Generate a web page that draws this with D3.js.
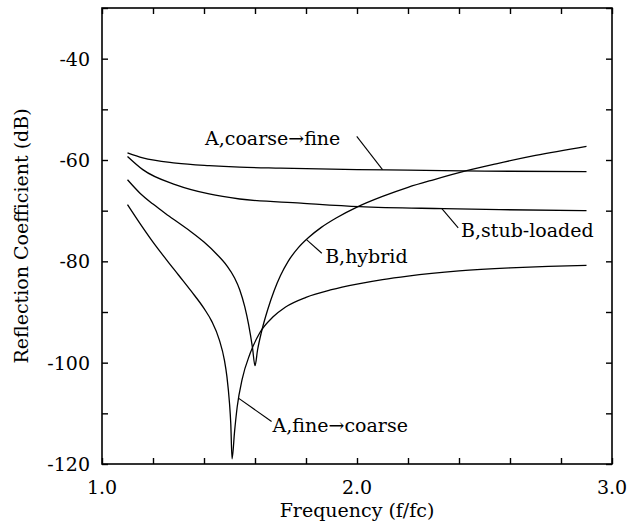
<!DOCTYPE html>
<html>
<head>
<meta charset="utf-8">
<script src="https://cdn.jsdelivr.net/npm/d3@7/dist/d3.min.js"></script>
<style>
  html, body { margin: 0; padding: 0; background: #fff; }
</style>
</head>
<body>
<svg id="chart" width="631" height="527"></svg>
<script>
// ---- data ----
const coarseFineX = [1.10, 1.16, 1.29, 1.42, 1.54, 1.70, 2.00, 2.20, 2.50, 2.90];
const coarseFineY = [-58.6, -59.6, -60.6, -61.1, -61.4, -61.6, -61.9, -62.0, -62.2, -62.3];

const stubX = [1.10, 1.16, 1.29, 1.42, 1.54, 1.78, 2.01, 2.34, 2.56, 2.90];
const stubY = [-59.3, -61.9, -64.9, -66.7, -67.7, -68.5, -69.2, -69.6, -69.8, -70.0];

const hybridX = [1.10, 1.15, 1.20, 1.25, 1.30, 1.35, 1.40, 1.45, 1.49, 1.52, 1.54, 1.56, 1.575, 1.59, 1.60,
                 1.61, 1.625, 1.65, 1.675, 1.70, 1.73, 1.77, 1.81, 1.86, 1.92, 2.00, 2.10, 2.20, 2.30, 2.43, 2.55, 2.70, 2.90];
const hybridY = [-63.9, -66.6, -68.7, -70.6, -72.4, -74.2, -76.2, -78.6, -80.9, -83.3, -85.6, -89.0, -92.5, -97.0, -100.6,
                 -97.5, -94.0, -89.5, -85.8, -82.8, -80.0, -77.3, -75.3, -73.3, -71.4, -69.3, -67.2, -65.4, -63.9, -62.1, -60.7, -59.1, -57.3];

const fineCoarseX = [1.10, 1.15, 1.20, 1.25, 1.30, 1.35, 1.40, 1.43, 1.46, 1.48, 1.49, 1.50, 1.505, 1.51,
                     1.52, 1.53, 1.55, 1.58, 1.62, 1.67, 1.72, 1.80, 1.90, 2.00, 2.10, 2.20, 2.40, 2.60, 2.75, 2.90];
const fineCoarseY = [-68.8, -72.6, -76.2, -79.5, -82.7, -85.9, -89.3, -91.8, -95.5, -99.5, -102.8, -108.0, -112.0, -119.0,
                     -113.5, -108.8, -103.2, -98.3, -94.0, -91.0, -89.0, -87.1, -85.6, -84.5, -83.6, -82.9, -81.9, -81.3, -81.0, -80.8];

const xTickLabels = [1.0, 2.0, 3.0];
const yTickLabels = [-40, -60, -80, -100, -120];

const seriesNames = ["A,coarse\u2192fine", "B,stub-loaded", "B,hybrid", "A,fine\u2192coarse"];

// ---- layout ----
const FONT = "'DejaVu Serif', serif";
const svg = d3.select("#chart");
const margin = {left: 102, top: 8, right: 19, bottom: 63};
const W = 631, H = 527;
const x = d3.scaleLinear().domain([1.0, 3.0]).range([margin.left, W - margin.right]);
const y = d3.scaleLinear().domain([-120, -30]).range([H - margin.bottom, margin.top]);

const fontSize = 19;
const xMinor = d3.range(1.0, 3.0001, 0.2);
const yMinor = d3.range(-120, -29.999, 10);

// frame
svg.append("rect")
  .attr("x", x(1.0)).attr("y", y(-30))
  .attr("width", x(3.0) - x(1.0)).attr("height", y(-120) - y(-30))
  .attr("fill", "none").attr("stroke", "#000").attr("stroke-width", 1.6);

const tickLen = 6;
const bottomAx = svg.append("g").attr("transform", `translate(0,${y(-120)})`)
  .call(d3.axisBottom(x).tickValues(xMinor).tickSize(-tickLen).tickFormat(""));
const topAx = svg.append("g").attr("transform", `translate(0,${y(-30)})`)
  .call(d3.axisTop(x).tickValues(xMinor).tickSize(-tickLen).tickFormat(""));
const leftAx = svg.append("g").attr("transform", `translate(${x(1.0)},0)`)
  .call(d3.axisLeft(y).tickValues(yMinor).tickSize(-tickLen).tickFormat(""));
const rightAx = svg.append("g").attr("transform", `translate(${x(3.0)},0)`)
  .call(d3.axisRight(y).tickValues(yMinor).tickSize(-tickLen).tickFormat(""));
[bottomAx, topAx, leftAx, rightAx].forEach(g => {
  g.select(".domain").remove();
  g.selectAll(".tick line").attr("stroke", "#000").attr("stroke-width", 1.4);
});

// tick labels
svg.append("g").selectAll("text").data(xTickLabels).join("text")
  .attr("x", d => x(d)).attr("y", y(-120) + 30)
  .attr("text-anchor", "middle").attr("font-size", fontSize).attr("font-family", FONT)
  .text(d => d.toFixed(1));
svg.append("g").selectAll("text").data(yTickLabels).join("text")
  .attr("x", x(1.0) - 12).attr("y", d => y(d)).attr("dy", "0.36em")
  .attr("text-anchor", "end").attr("font-size", fontSize).attr("font-family", FONT)
  .text(d => d);

// axis titles
svg.append("text")
  .attr("x", (x(1.0) + x(3.0)) / 2).attr("y", H - 10)
  .attr("text-anchor", "middle").attr("font-size", fontSize).attr("font-family", FONT)
  .text("Frequency (f/fc)");
svg.append("text")
  .attr("transform", `translate(28,${(y(-30) + y(-120)) / 2}) rotate(-90)`)
  .attr("text-anchor", "middle").attr("font-size", fontSize).attr("font-family", FONT)
  .text("Reflection Coefficient (dB)");

// curves
const series = [
  {xs: coarseFineX, ys: coarseFineY},
  {xs: stubX, ys: stubY},
  {xs: hybridX, ys: hybridY},
  {xs: fineCoarseX, ys: fineCoarseY}
];
const line = d3.line().x(d => x(d[0])).y(d => y(d[1])).curve(d3.curveMonotoneX);
svg.append("g").selectAll("path").data(series).join("path")
  .attr("d", s => line(s.xs.map((v, i) => [v, s.ys[i]])))
  .attr("fill", "none").attr("stroke", "#000").attr("stroke-width", 1.3);

// annotations (data coordinates)
const annotations = [
  {name: seriesNames[0], from: [1.999, -55.35], to: [2.100, -61.9], text: [1.404, -56.99]},
  {name: seriesNames[1], from: [2.332, -69.55], to: [2.397, -73.4], text: [2.408, -75.2]},
  {name: seriesNames[2], from: [1.803, -75.75], to: [1.862, -78.4], text: [1.875, -80.24]},
  {name: seriesNames[3], from: [1.535, -107.0], to: [1.665, -111.6], text: [1.669, -113.6]}
];
const ann = svg.append("g");
ann.selectAll("line").data(annotations).join("line")
  .attr("x1", d => x(d.from[0])).attr("y1", d => y(d.from[1]))
  .attr("x2", d => x(d.to[0])).attr("y2", d => y(d.to[1]))
  .attr("stroke", "#000").attr("stroke-width", 1.1);
ann.selectAll("text").data(annotations).join("text")
  .attr("x", d => x(d.text[0])).attr("y", d => y(d.text[1]))
  .attr("font-size", fontSize).attr("font-family", FONT)
  .text(d => d.name);
</script>
</body>
</html>
